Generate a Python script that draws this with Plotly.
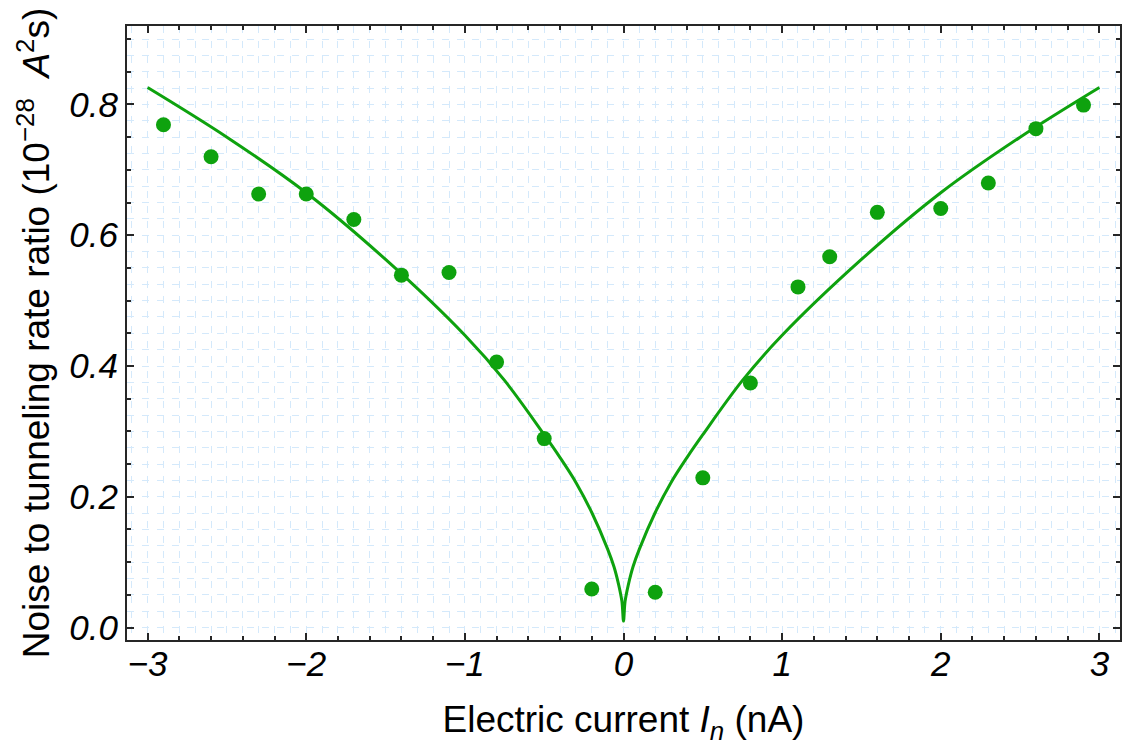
import plotly.graph_objects as go

# Measured points: electric current (nA) vs noise-to-tunneling-rate ratio
current_na = [-2.9, -2.6, -2.3, -2.0, -1.7, -1.4, -1.1, -0.8, -0.5, -0.2,
              0.2, 0.5, 0.8, 1.1, 1.3, 1.6, 2.0, 2.3, 2.6, 2.9]
noise_ratio = [0.769, 0.720, 0.663, 0.663, 0.624, 0.539, 0.543, 0.406, 0.289, 0.059,
               0.054, 0.229, 0.374, 0.521, 0.567, 0.635, 0.641, 0.680, 0.763, 0.799]

# Fitted model curve
fit_current = [-3.0, -2.5, -2.0, -1.5, -1.0, -0.75, -0.5, -0.4, -0.3, -0.2, -0.1,
               -0.06, -0.03, -0.01, 0.0, 0.01, 0.03, 0.06, 0.1, 0.2, 0.3, 0.4,
               0.5, 0.75, 1.0, 1.5, 2.0, 2.5, 3.0]
fit_ratio = [0.826, 0.750, 0.665, 0.563, 0.447, 0.378, 0.295, 0.260, 0.222, 0.176, 0.120,
             0.093, 0.065, 0.040, 0.010, 0.040, 0.065, 0.093, 0.120, 0.176, 0.222, 0.260,
             0.295, 0.378, 0.447, 0.563, 0.665, 0.750, 0.826]

x_ticks = [-3, -2, -1, 0, 1, 2, 3]
y_ticks = [0.0, 0.2, 0.4, 0.6, 0.8]

GREEN = "rgb(14,162,14)"
FRAME = "#262626"
GRID = "rgb(212,233,251)"
FONT = "Liberation Sans, Arial, sans-serif"
X_RANGE = [-3.13, 3.13]
Y_RANGE = [-0.019, 0.92]

fig = go.Figure()
fig.add_trace(go.Scatter(x=fit_current, y=fit_ratio, mode="lines",
                         line=dict(color=GREEN, width=3, shape="spline", smoothing=1.0),
                         hoverinfo="skip"))
fig.add_trace(go.Scatter(x=current_na, y=noise_ratio, mode="markers",
                         marker=dict(color=GREEN, size=15, line=dict(width=0))))
# invisible trace on the overlay axes carrying the minor ticks
fig.add_trace(go.Scatter(x=[None], y=[None], xaxis="x2", yaxis="y2",
                         showlegend=False, hoverinfo="skip"))

tick_font = dict(family=FONT, size=35, color="black", style="italic")
title_font = dict(family=FONT, size=37, color="black")

fig.update_layout(
    width=1126, height=749,
    margin=dict(l=127, r=4, t=26, b=109),
    paper_bgcolor="white", plot_bgcolor="white",
    showlegend=False,
    xaxis=dict(
        range=X_RANGE, tickmode="array", tickvals=x_ticks,
        ticktext=[("\u2212" + str(-v)) if v < 0 else str(v) for v in x_ticks],
        ticks="inside", ticklen=7, tickwidth=1.5, tickcolor=FRAME,
        showline=True, linecolor=FRAME, linewidth=2, mirror="allticks",
        showgrid=False, zeroline=False,
        minor=dict(dtick=0.1, tick0=0, showgrid=True, gridcolor=GRID,
                   gridwidth=1, griddash="7px,8px", ticks=""),
        tickfont=tick_font, ticklabelstandoff=-8,
        title=dict(text="Electric current <i>I<sub>n</sub></i> (nA)",
                   font=title_font, standoff=24),
    ),
    yaxis=dict(
        range=Y_RANGE, tickmode="array", tickvals=y_ticks,
        ticktext=[f"{v:.1f}" for v in y_ticks],
        ticks="inside", ticklen=7, tickwidth=1.5, tickcolor=FRAME,
        showline=True, linecolor=FRAME, linewidth=2, mirror="allticks",
        showgrid=False, zeroline=False,
        minor=dict(dtick=0.025, tick0=0, showgrid=True, gridcolor=GRID,
                   gridwidth=1, griddash="7px,8px", ticks=""),
        tickfont=tick_font, ticklabelstandoff=0,
        title=dict(text="Noise to tunneling rate ratio (10<sup>\u221228</sup>\u00a0\u00a0<i>A</i><sup>2</sup>s)",
                   font=title_font, standoff=8),
    ),
    xaxis2=dict(
        overlaying="x", matches="x", anchor="y", range=X_RANGE,
        tickmode="linear", tick0=0, dtick=0.2, ticks="inside", ticklen=4,
        tickwidth=1.5, tickcolor=FRAME, mirror="allticks", showline=False,
        showticklabels=False, showgrid=False, zeroline=False,
    ),
    yaxis2=dict(
        overlaying="y", matches="y", anchor="x", range=Y_RANGE,
        tickmode="linear", tick0=0, dtick=0.05, ticks="inside", ticklen=4,
        tickwidth=1.5, tickcolor=FRAME, mirror="allticks", showline=False,
        showticklabels=False, showgrid=False, zeroline=False,
    ),
)

fig.write_html("out.html")
